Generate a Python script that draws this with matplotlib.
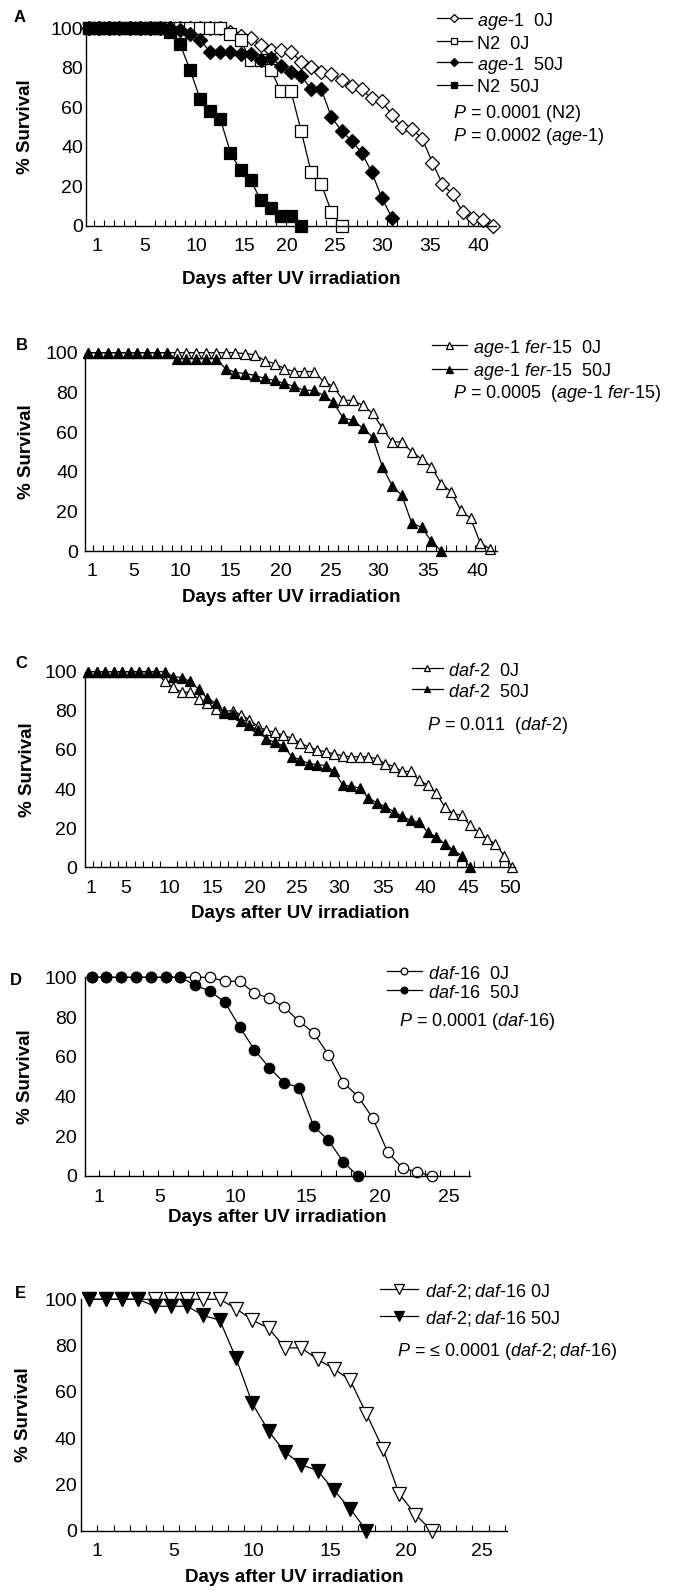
import matplotlib
matplotlib.use('Agg')
import matplotlib.pyplot as plt
from matplotlib.ticker import FixedLocator, NullFormatter

plt.rcParams['font.family'] = ['Liberation Sans', 'DejaVu Sans']
plt.rcParams['mathtext.fontset'] = 'custom'
plt.rcParams['mathtext.rm'] = 'Liberation Sans'
plt.rcParams['mathtext.it'] = 'Liberation Sans:italic'
plt.rcParams['mathtext.bf'] = 'Liberation Sans:bold'

W, H = 673, 1591

# ---------------- data ----------------
# Panel A
a_age1_0J = [100]*14 + [98, 96, 95, 91.5, 89, 89, 88, 83, 80.5, 78, 77, 74, 71, 69, 64.5,
                        63, 56, 50, 49, 44, 32, 21, 16, 7, 4, 3, 0]
a_n2_0J = [100]*14 + [97, 94, 84, 84, 79, 68, 68, 48, 27, 21, 7, 0]
a_age1_50J = [100]*9 + [99, 97, 94, 88, 88, 88, 87, 87, 84, 85, 81, 78, 76, 69, 69, 55,
                        48, 43, 37, 27, 14, 4]
a_n2_50J = [100]*8 + [98, 92, 79, 64, 58, 54, 37, 28, 23, 13, 9, 5, 5, 0]

# Panel B
b_0J = [100]*16 + [99.5, 99, 96, 94.5, 92, 90.5, 90.5, 90.5, 85.5, 83, 76, 76, 73.5, 69.5,
                   62, 55, 55, 50, 46.5, 42.5, 34, 30, 20.5, 16.5, 4, 1]
b_50J = [100]*9 + [97]*5 + [92, 90, 89.5, 88.5, 87, 86, 84.5, 83, 81, 81, 78.5, 75, 67, 66,
                            62, 57.5, 42.5, 33, 28, 14, 12, 5, 0]

# Panel C
c_0J = [100]*9 + [95, 92, 89.5, 89.5, 86, 84, 81, 80, 80, 78, 75.5, 72, 70, 69, 67.5, 66,
                  63.5, 61.5, 60, 59, 58, 57, 56.5, 56.5, 56.5, 55.5, 53, 51.5, 49, 49, 44.5,
                  42, 38, 31, 27.5, 26.5, 21.5, 18, 14.5, 12, 6, 0]
c_50J = [100]*10 + [97.5, 97, 95, 91, 86.5, 84, 79, 78.5, 75, 72.5, 70, 65.5, 64, 62, 56.5,
                    55, 53, 52.5, 52, 49, 42, 41.5, 40.5, 35.5, 33, 31, 28.5, 26, 24, 23, 18,
                    15.5, 12, 9, 6, 0]

# Panel D
d_0J = [100]*9 + [98, 98, 92, 89.5, 85, 78, 72, 61, 47, 40, 29, 12, 4, 2, 0]
d_50J = [100]*7 + [96, 93, 87.5, 75, 63.5, 54.5, 47, 44.5, 25, 18, 7, 0]

# Panel E
e_0J = [100]*9 + [96, 91, 87.5, 79, 79, 74, 70, 65, 50.5, 35.5, 16, 7, 0]
e_50J = [100]*4 + [97, 97, 97, 93, 91, 74.5, 55, 43, 34, 28.5, 26, 17.5, 9.5, 0]

# tick labels
a_xlabels = ['1', '5', '10', '15', '20', '25', '30', '35', '40']
c_xlabels = ['1', '5', '10', '15', '20', '25', '30', '35', '40', '45', '50']
d_xlabels = ['1', '5', '10', '15', '20', '25']
y_ticks = [0, 20, 40, 60, 80, 100]

IT_AGE1 = r'$\it{age}$-$\it{1}$'
IT_FER = r'$\it{age}$-$\it{1\ fer}$-$\it{15}$'
IT_DAF2 = r'$\it{daf}$-$\it{2}$'
IT_DAF16 = r'$\it{daf}$-$\it{16}$'
IT_DD = r'$\it{daf}$-$\it{2;daf}$-$\it{16}$'

FS_TICK = 14
FS_LEG = 13
FS_LAB = 13.5
EM = FS_LEG * 100 / 72.0          # legend font size in pixels
HH = 1.15                         # legend row height (in font sizes)

panels = [
    dict(letter='A', rect=(86, 28.3, 496, 225.7), xlim=(0.69, 41.3),
         xtick_pos=[1.75, 6.5, 11.65, 16.4, 20.6, 25.3, 30.0, 34.75, 39.6], xtick_lab=a_xlabels,
         series=[(a_age1_0J, 'D', False, 7.6, IT_AGE1 + '  0J'),
                 (a_n2_0J, 's', False, 8.0, 'N2  0J'),
                 (a_age1_50J, 'D', True, 7.6, IT_AGE1 + '  50J'),
                 (a_n2_50J, 's', True, 8.0, 'N2  50J')],
         leg=(436.7, 21.0, 22.6, 1.94, 0.31, 0.58),
         ptext=[(453.3, 113.3, r'$\it{P}$ = 0.0001 (N2)'),
                (453.3, 136.7, r'$\it{P}$ = 0.0002 (' + IT_AGE1 + ')')],
         ylab_x=25, xlab_y=279, letter_xy=(20, 17), ypad=2),
    dict(letter='B', rect=(85, 352.7, 496.7, 551), xlim=(0.66, 42.67),
         xtick_pos=[1.34, 5.6, 10.35, 15.5, 20.6, 25.7, 30.6, 35.7, 40.7], xtick_lab=a_xlabels,
         series=[(b_0J, '^', False, 7.2, IT_FER + '  0J'),
                 (b_50J, '^', True, 7.2, IT_FER + '  50J')],
         leg=(431.7, 348.0, 23.3, 1.97, 0.30, 0.7),
         ptext=[(452.7, 393.3, r'$\it{P}$ = 0.0005  (' + IT_FER + ')')],
         ylab_x=26, xlab_y=597, letter_xy=(21.7, 346), ypad=5),
    dict(letter='C', rect=(85, 671.7, 515, 867.3), xlim=(0.61, 51.3),
         xtick_pos=[1.28, 5.44, 10.5, 15.6, 20.6, 25.6, 30.6, 35.7, 40.8, 45.8, 50.7],
         xtick_lab=c_xlabels,
         series=[(c_0J, '^', False, 7.0, IT_DAF2 + '  0J'),
                 (c_50J, '^', True, 7.0, IT_DAF2 + '  50J')],
         leg=(411.7, 671.0, 22.6, 1.75, 0.28, 0.7),
         ptext=[(426.7, 726, r'$\it{P}$ = 0.011  (' + IT_DAF2 + ')')],
         ylab_x=27.5, xlab_y=914, letter_xy=(21.7, 663), ypad=6),
    dict(letter='D', rect=(85, 977.3, 470, 1176), xlim=(0.55, 26.56),
         xtick_pos=[1.49, 5.6, 10.7, 15.5, 20.5, 25.1], xtick_lab=d_xlabels,
         series=[(d_0J, 'o', False, 7.5, IT_DAF16 + '  0J'),
                 (d_50J, 'o', True, 7.5, IT_DAF16 + '  50J')],
         leg=(386.7, 974.0, 21.0, 1.94, 0.37, 0.65),
         ptext=[(399.3, 1021.7, r'$\it{P}$ = 0.0001 (' + IT_DAF16 + ')')],
         ylab_x=26, xlab_y=1217, letter_xy=(16, 981), ypad=6),
    dict(letter='E', rect=(81, 1299.3, 506.7, 1530.7), xlim=(0.49, 26.6),
         xtick_pos=[1.45, 6.15, 11.06, 15.8, 20.4, 25.1], xtick_lab=d_xlabels,
         series=[(e_0J, 'v', False, 9.5, IT_DD + ' 0J'),
                 (e_50J, 'v', True, 9.5, IT_DD + ' 50J')],
         leg=(380, 1291.7, 28.3, 2.12, 0.37, 0.7),
         ptext=[(396.7, 1351.7, r'$\it{P}$ = ≤ 0.0001 (' + IT_DD + ')')],
         ylab_x=23.3, xlab_y=1577, letter_xy=(20.7, 1293), ypad=3),
]

fig = plt.figure(figsize=(W / 100, H / 100), dpi=100)

for p in panels:
    x0, ytop, x1, ybot = p['rect']
    ax = fig.add_axes([x0 / W, 1 - ybot / H, (x1 - x0) / W, (ybot - ytop) / H])
    handles = []
    for vals, mk, filled, ms, lab in p['series']:
        days = list(range(1, len(vals) + 1))
        ln, = ax.plot(days, vals, color='black', lw=0.9, marker=mk, ms=ms,
                      mfc='black' if filled else 'white', mec='black', mew=0.9,
                      clip_on=False, label=lab)
        handles.append(ln)
    ax.set_xlim(*p['xlim'])
    ax.set_ylim(0, 100)
    for s in ('top', 'right'):
        ax.spines[s].set_visible(False)
    for s in ('left', 'bottom'):
        ax.spines[s].set_linewidth(1.0)
    ax.set_yticks(y_ticks)
    ax.tick_params(axis='y', length=0, labelsize=FS_TICK, pad=p['ypad'])
    ax.xaxis.set_major_locator(FixedLocator(p['xtick_pos']))
    ax.set_xticklabels(p['xtick_lab'])
    lo, hi = p['xlim']
    bounds = [k + 0.5 for k in range(0, 60) if lo < k + 0.5 <= hi + 0.01]
    ax.xaxis.set_minor_locator(FixedLocator(bounds))
    ax.xaxis.set_minor_formatter(NullFormatter())
    ax.tick_params(axis='x', which='major', length=0, labelsize=FS_TICK, pad=9)
    ax.tick_params(axis='x', which='minor', direction='in', length=4, width=0.8)

    hgt = ybot - ytop
    wid = x1 - x0
    ax.set_xlabel('Days after UV irradiation', fontsize=FS_LAB, fontweight='bold')
    ax.xaxis.set_label_coords(0.5, -(p['xlab_y'] - ybot) / hgt)
    ax.xaxis.label.set_va('center')
    ax.set_ylabel('% Survival', fontsize=FS_LAB, fontweight='bold')
    ax.yaxis.set_label_coords((p['ylab_x'] - x0) / wid, 0.5)
    ax.yaxis.label.set_va('center')

    lx, row1, pitch, hl, htp, msc = p['leg']
    top = row1 - HH * EM / 2
    ax.legend(handles=handles, loc='upper left', bbox_to_anchor=(lx / W, 1 - top / H),
              bbox_transform=fig.transFigure, frameon=False, fontsize=FS_LEG,
              borderpad=0, borderaxespad=0, handlelength=hl, handletextpad=htp,
              handleheight=HH, labelspacing=max(pitch - HH * EM, 0) / EM,
              markerscale=msc)
    for tx, ty, s in p['ptext']:
        fig.text(tx / W, 1 - ty / H, s, fontsize=FS_LEG, ha='left', va='center')
    lxy = p['letter_xy']
    fig.text(lxy[0] / W, 1 - lxy[1] / H, p['letter'], fontsize=12, fontweight='bold',
             ha='center', va='center')

fig.savefig('out.png', dpi=100)
